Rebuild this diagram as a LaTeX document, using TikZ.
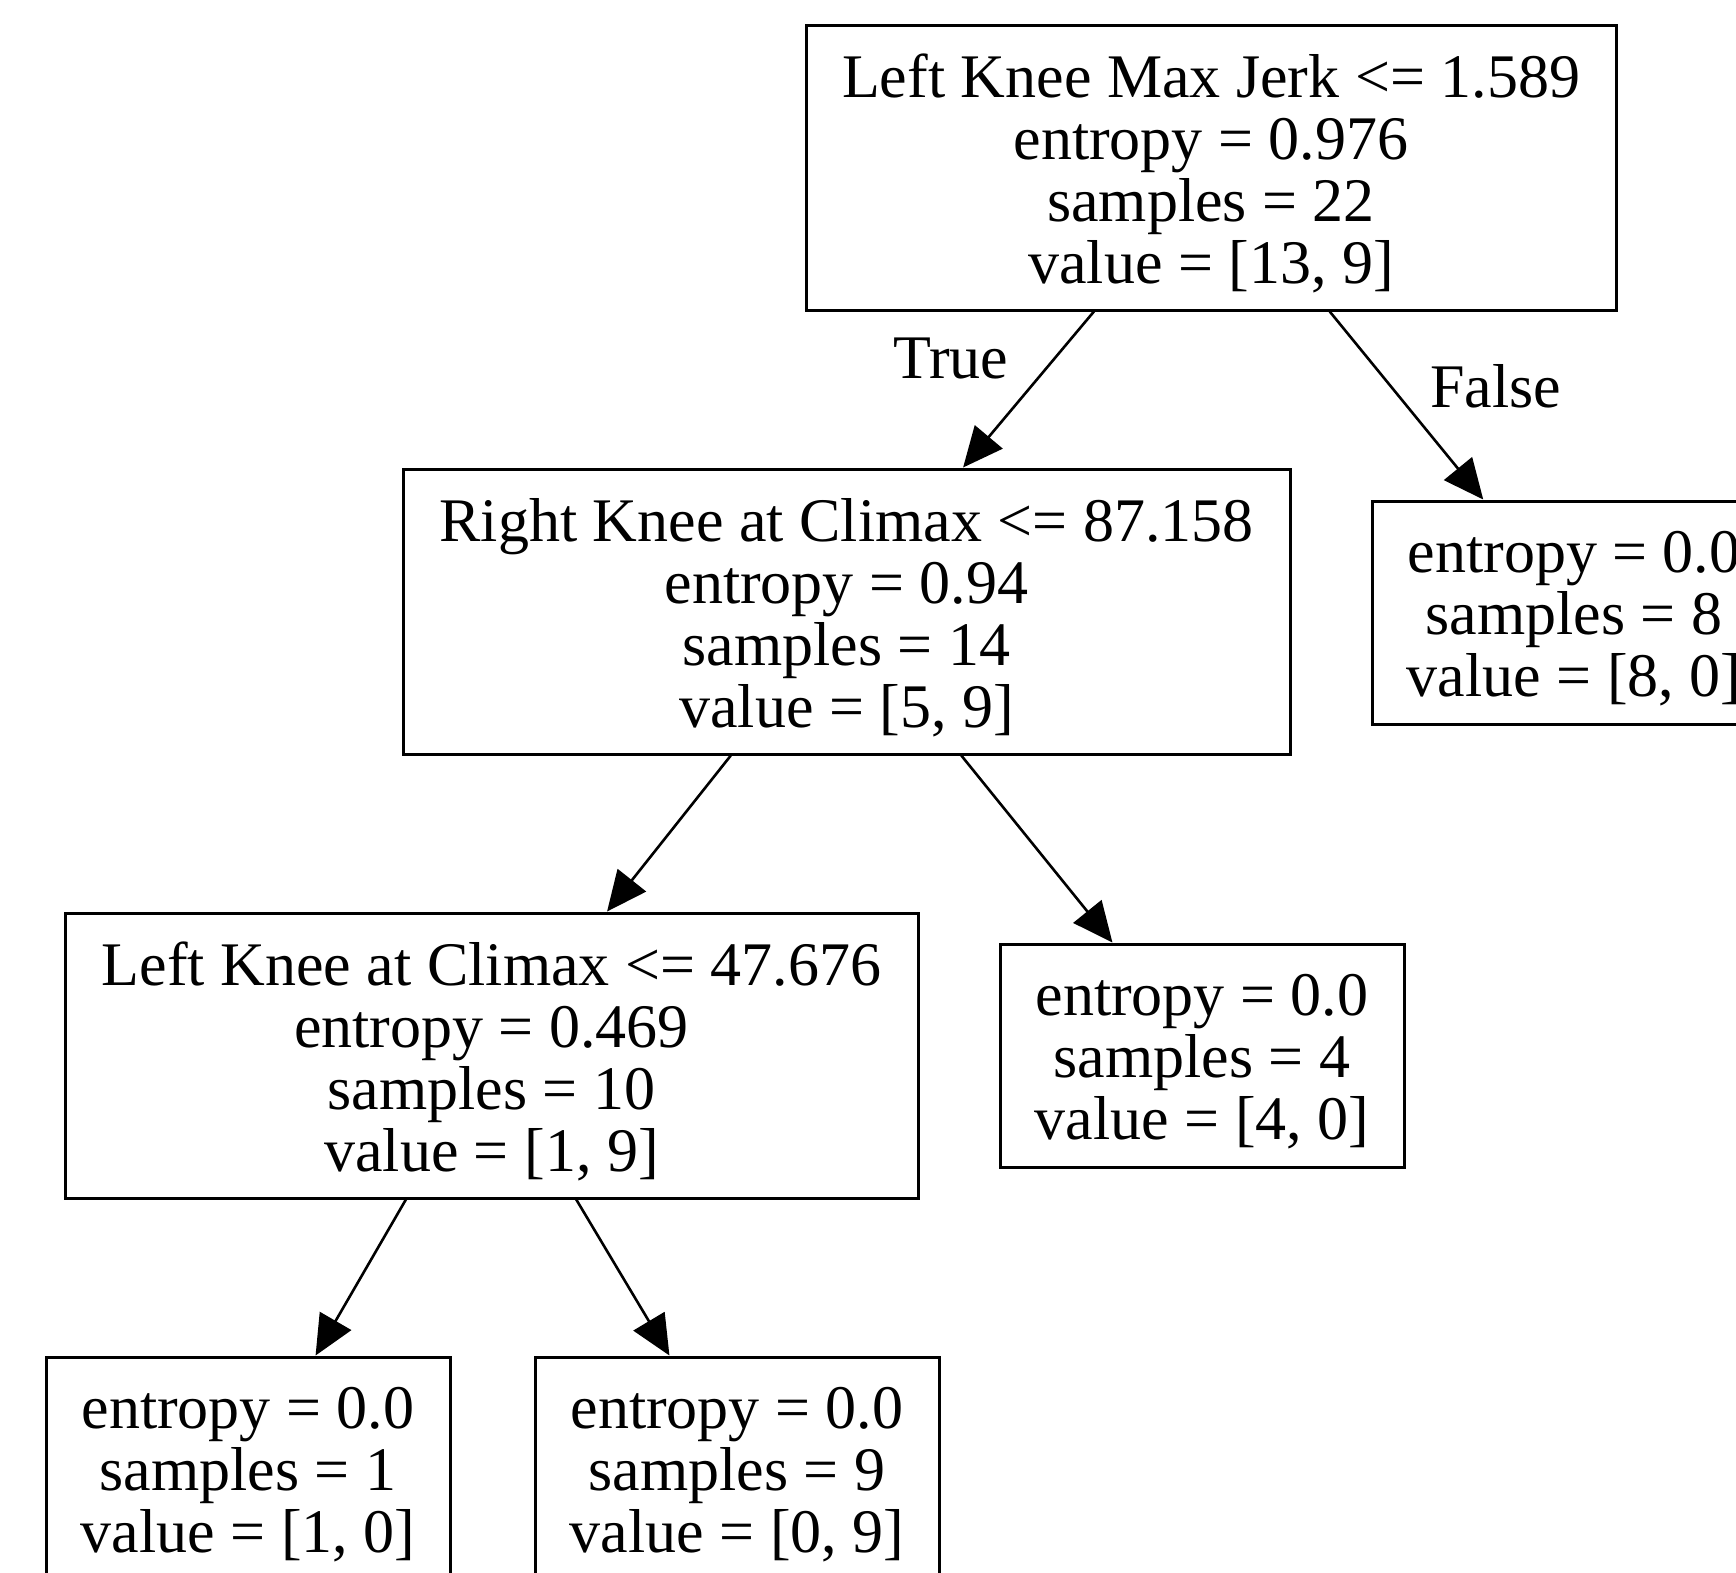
\documentclass[tikz,border=0pt]{standalone}
\usepackage{fontspec}
\setmainfont{Liberation Serif}
\usetikzlibrary{arrows.meta,calc,positioning}

% struts that fix where the lines sit in a box
\newcommand\linetop[1]{\rule{0pt}{#1pt}}
\newcommand\linebot{\rule[-16pt]{0pt}{0pt}}

\tikzset{
  split/.style={draw,line width=3pt,align=center,minimum height=285pt,inner sep=0pt},
  leaf/.style={draw,line width=3pt,align=center,minimum width=404pt,minimum height=223pt,inner sep=0pt},
  branch/.style={line width=2.6pt,-{Triangle[length=40pt,width=36pt]}},
  cond/.style={inner sep=0pt}
}

\begin{document}
\begin{tikzpicture}[x=1pt,y=-1pt,font=\fontsize{62}{62}\selectfont]
 \path[use as bounding box,fill=white] (0,0) rectangle (1736,1572);
 \clip (0,0) rectangle (1736,1572);
 % split nodes
 \node[split,minimum width=810pt] (root) at (1211,167.5)
  {\linetop{62}Left Knee Max Jerk <= 1.589\\entropy = 0.976\\samples = 22\\value = [13, 9]\linebot};
 \node[split,minimum width=887pt] (rkc) at (846.5,611.5)
  {\linetop{62}Right Knee at Climax <= 87.158\\entropy = 0.94\\samples = 14\\value = [5, 9]\linebot};
 \node[split,minimum width=853pt] (lkc) at (491.5,1055.5)
  {\linetop{62}Left Knee at Climax <= 47.676\\entropy = 0.469\\samples = 10\\value = [1, 9]\linebot};
 % leaves
 \node[leaf] (leafF) at (1574,612.5)
  {\linetop{60}entropy = 0.0\\samples = 8\\value = [8, 0]\linebot};
 \node[leaf] (leafD) at (1202,1055.5)
  {\linetop{60}entropy = 0.0\\samples = 4\\value = [4, 0]\linebot};
 \node[leaf] (leafA) at (248,1468.5)
  {\linetop{60}entropy = 0.0\\samples = 1\\value = [1, 0]\linebot};
 \node[leaf] (leafB) at (737,1468.5)
  {\linetop{60}entropy = 0.0\\samples = 9\\value = [0, 9]\linebot};
 % branches
 \draw[branch] ($(root.south west)!0.356!(root.south east)$)
  -- node[cond,pos=0.3,left=45pt] {True} ($(rkc.north west)!0.631!(rkc.north east)$);
 \draw[branch] ($(root.south west)!0.646!(root.south east)$)
  -- node[cond,pos=0.4,right=38pt] {False} ($(leafF.north west)!0.277!(leafF.north east)$);
 \draw[branch] ($(rkc.south west)!0.370!(rkc.south east)$)
  -- ($(lkc.north west)!0.635!(lkc.north east)$);
 \draw[branch] ($(rkc.south west)!0.629!(rkc.south east)$)
  -- ($(leafD.north west)!0.280!(leafD.north east)$);
 \draw[branch] ($(lkc.south west)!0.400!(lkc.south east)$)
  -- ($(leafA.north west)!0.666!(leafA.north east)$);
 \draw[branch] ($(lkc.south west)!0.599!(lkc.south east)$)
  -- ($(leafB.north west)!0.334!(leafB.north east)$);
\end{tikzpicture}
\end{document}
